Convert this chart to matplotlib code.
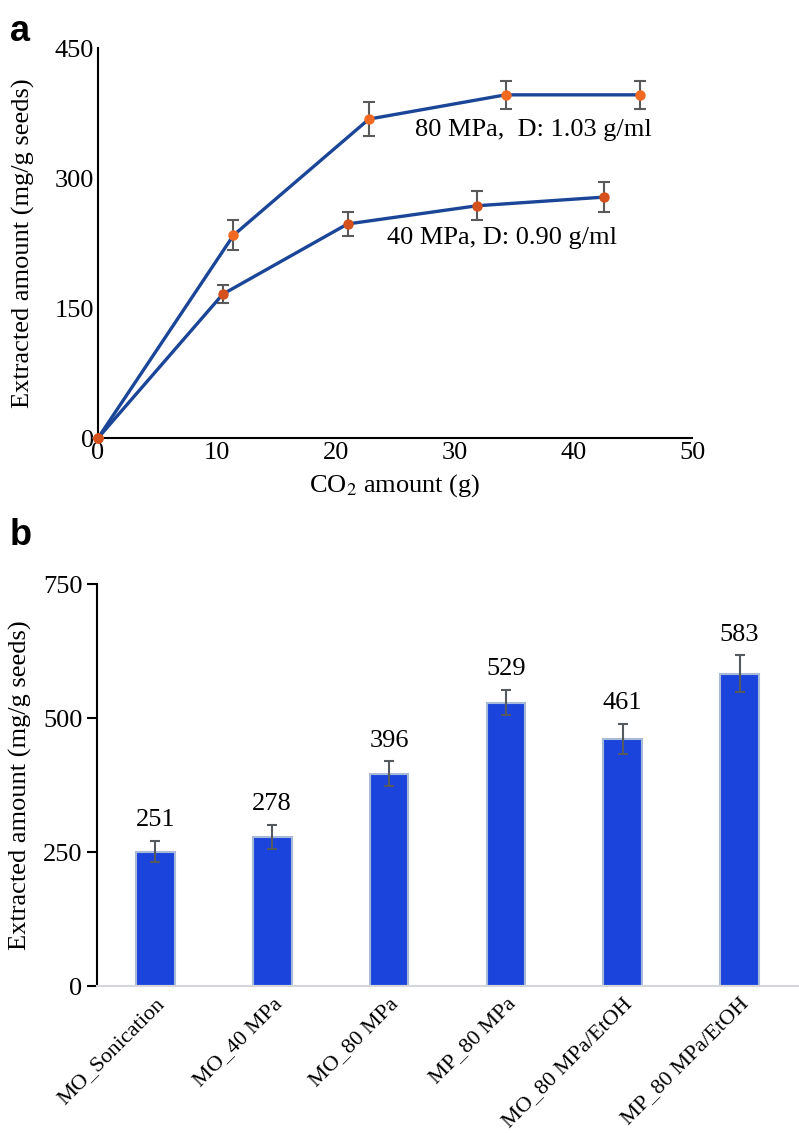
import matplotlib.pyplot as plt

plt.rcParams['font.family'] = 'Liberation Serif'
plt.rcParams['mathtext.fontset'] = 'stix'

# panel a data
co2_80 = [0, 11.4, 22.8, 34.3, 45.6]
ext_80 = [0, 234, 368, 396, 396]
err_80 = [0, 17, 20, 16, 16]

co2_40 = [0, 10.5, 21.0, 31.9, 42.6]
ext_40 = [0, 166, 247, 268, 278]
err_40 = [0, 10, 14, 17, 17]

# panel b data
samples = ["MO_Sonication", "MO_40 MPa", "MO_80 MPa", "MP_80 MPa",
           "MO_80 MPa/EtOH", "MP_80 MPa/EtOH"]
amounts = [251, 278, 396, 529, 461, 583]
amount_err = [20, 23, 23, 23, 28, 34]

line_col = '#1b4698'
fs = 19

fig = plt.figure(figsize=(7.99, 11.33), dpi=100)

# ---- panel a
ax1 = fig.add_axes([0.1227, 0.6134, 0.7435, 0.3442])
ax1.errorbar(co2_80, ext_80, yerr=err_80, color=line_col, lw=2.4,
             ecolor='#5a5a5a', elinewidth=1.5, capsize=4, capthick=1.5,
             marker='o', ms=6.5, mfc='#f26a21', mec='#f26a21', clip_on=False, zorder=3)
ax1.errorbar(co2_40, ext_40, yerr=err_40, color=line_col, lw=2.4,
             ecolor='#5a5a5a', elinewidth=1.5, capsize=4, capthick=1.5,
             marker='o', ms=6.5, mfc='#d4501c', mec='#d4501c', clip_on=False, zorder=3)
ax1.text(36.6, 355, "80 MPa,  D: 1.03 g/ml", ha='center', va='center', fontsize=fs)
ax1.text(34.0, 231, "40 MPa, D: 0.90 g/ml", ha='center', va='center', fontsize=fs)
ax1.set_xlim(0, 50)
ax1.set_ylim(0, 450)
ax1.set_xticks([0, 10, 20, 30, 40, 50])
ax1.set_yticks([0, 150, 300, 450])
ax1.tick_params(length=0, labelsize=fs, pad=3)
ax1.spines['top'].set_visible(False)
ax1.spines['right'].set_visible(False)
ax1.spines['left'].set_linewidth(1.5)
ax1.spines['bottom'].set_linewidth(1.5)
ax1.set_xlabel("CO$_2$ amount (g)", fontsize=fs, labelpad=6)
ax1.set_ylabel("Extracted amount (mg/g seeds)", fontsize=fs, labelpad=14)

# ---- panel b
ax2 = fig.add_axes([0.1214, 0.1297, 0.8773, 0.3548])
x = range(len(samples))
ax2.bar(x, amounts, width=0.33, color='#1b44dd', edgecolor='#a8bad8', linewidth=1.5,
        zorder=2)
ax2.errorbar(x, amounts, yerr=amount_err, fmt='none', ecolor='#555a5f',
             elinewidth=1.5, capsize=3.5, capthick=1.5, zorder=3)
for i, v in enumerate(amounts):
    ax2.annotate(str(v), (i, v + amount_err[i]), xytext=(0, 7),
                 textcoords='offset points', ha='center', va='bottom', fontsize=fs)
ax2.set_xlim(-0.5, 5.5)
ax2.set_ylim(0, 750)
ax2.set_yticks([0, 250, 500, 750])
ax2.set_xticks(list(x))
ax2.set_xticklabels(samples, rotation=45, ha='right', rotation_mode='anchor')
ax2.tick_params(axis='y', length=7, width=1.5, labelsize=fs)
ax2.tick_params(axis='x', length=0, labelsize=16, pad=6)
ax2.spines['top'].set_visible(False)
ax2.spines['right'].set_visible(False)
ax2.spines['left'].set_linewidth(1.5)
ax2.spines['bottom'].set_color('#d4d6da')
ax2.spines['bottom'].set_linewidth(1.5)
ax2.set_ylabel("Extracted amount (mg/g seeds)", fontsize=fs, labelpad=8)

fig.text(0.012, 0.972, "a", fontsize=26, fontweight='bold', family='Liberation Sans',
         va='center')
fig.text(0.012, 0.527, "b", fontsize=26, fontweight='bold', family='Liberation Sans',
         va='center')

fig.savefig("out.png", dpi=100)
